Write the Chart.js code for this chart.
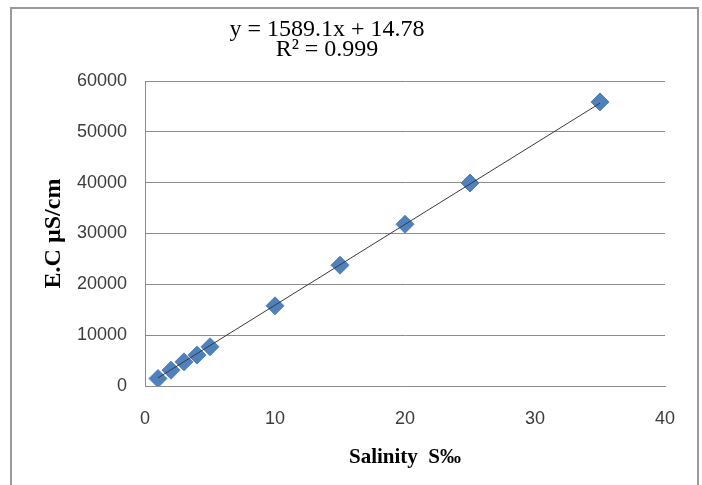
<!DOCTYPE html>
<html>
<head>
<meta charset="utf-8">
<script src="https://cdn.jsdelivr.net/npm/chart.js@4.4.1/dist/chart.umd.min.js"></script>
<style>
  html, body { margin: 0; padding: 0; background: #ffffff; }
  #wrap { width: 702px; height: 485px; position: relative; }
</style>
</head>
<body>
<div id="wrap"><canvas id="ecChart"></canvas></div>
<script>
// salinity (S‰) vs electrical conductivity (µS/cm)
var salinity = [1, 2, 3, 4, 5, 10, 15, 20, 25, 35];
var conductivity = [1470, 3110, 4750, 6080, 7720, 15780, 23760, 31820, 39940, 55880];
var xTicks = [0, 10, 20, 30, 40];
var yTicks = [0, 10000, 20000, 30000, 40000, 50000, 60000];

// trendline from the fitted equation
var slope = 1589.1;
var intercept = 14.78;
var trendX = [1, 35];
var equationLines = ['y = 1589.1x + 14.78', 'R\u00b2 = 0.999'];

var trendPoints = trendX.map(function (x) {
    return { x: x, y: slope * x + intercept };
});
var dataPoints = salinity.map(function (s, i) {
    return { x: s, y: conductivity[i] };
});

var gridGray = '#8c8c8c';

/* outer frame + equation label */
var framePlugin = {
    id: 'frame',
    beforeDraw: function (chart) {
        var ctx = chart.ctx;
        ctx.save();
        ctx.fillStyle = '#ffffff';
        ctx.fillRect(0, 0, chart.width, chart.height);
        ctx.strokeStyle = '#9a9a9a';
        ctx.lineWidth = 2;
        ctx.strokeRect(11, 8, 687, 500);
        ctx.restore();
    },
    afterDraw: function (chart) {
        var ctx = chart.ctx;
        var area = chart.chartArea;
        var cx = area.left + (area.right - area.left) * 0.35;
        ctx.save();
        ctx.fillStyle = '#000000';
        ctx.font = '24px "Liberation Serif", "Times New Roman", serif';
        ctx.textAlign = 'center';
        ctx.textBaseline = 'alphabetic';
        ctx.fillText(equationLines[0], cx, 36);
        ctx.fillText(equationLines[1], cx, 56);
        ctx.restore();
    }
};

var chart = document.querySelector('#ecChart');
window.myChart = new Chart(chart, {
    type: 'scatter',
    data: {
        datasets: [{
            label: 'Linear (E.C)',
            type: 'line',
            data: trendPoints,
            borderColor: '#3a3a3a',
            borderWidth: 1,
            pointRadius: 0,
            fill: false
        }, {
            label: 'E.C',
            data: dataPoints,
            pointStyle: 'rectRot',
            pointRadius: 9,
            pointHoverRadius: 9,
            backgroundColor: '#4f81bd',
            borderColor: '#4f81bd',
            borderWidth: 1
        }]
    },
    options: {
        responsive: true,
        maintainAspectRatio: false,
        animation: false,
        layout: { padding: { top: 81, left: 0, right: 37, bottom: 0 } },
        plugins: {
            legend: { display: false },
            tooltip: { enabled: false }
        },
        scales: {
            x: {
                type: 'linear',
                min: 0,
                max: 40,
                afterBuildTicks: function (scale) {
                    scale.ticks = xTicks.map(function (v) { return { value: v }; });
                },
                afterFit: function (scale) { scale.height = 99; },
                grid: { display: false, drawTicks: false },
                border: { display: true, color: gridGray, width: 1 },
                ticks: {
                    padding: 22,
                    color: '#3c3c3c',
                    font: { family: '"Liberation Sans", Arial, sans-serif', size: 18 }
                },
                title: {
                    display: true,
                    text: 'Salinity  S\u2030',
                    color: '#000000',
                    padding: { top: 0, bottom: 15 },
                    font: { family: '"Liberation Serif", "Times New Roman", serif', size: 21, weight: 'bold' }
                }
            },
            y: {
                type: 'linear',
                min: 0,
                max: 60000,
                afterBuildTicks: function (scale) {
                    scale.ticks = yTicks.map(function (v) { return { value: v }; });
                },
                afterFit: function (scale) { scale.width = 145; },
                grid: { color: gridGray, lineWidth: 1, drawTicks: false },
                border: { display: true, color: gridGray, width: 1 },
                ticks: {
                    padding: 18,
                    color: '#3c3c3c',
                    font: { family: '"Liberation Sans", Arial, sans-serif', size: 18 },
                    callback: function (v) { return String(v); }
                },
                title: {
                    display: true,
                    text: 'E.C \u00b5S/cm',
                    color: '#000000',
                    padding: { top: 39, bottom: 0 },
                    font: { family: '"Liberation Serif", "Times New Roman", serif', size: 24, weight: 'bold' }
                }
            }
        }
    },
    plugins: [framePlugin]
});
</script>
</body>
</html>
